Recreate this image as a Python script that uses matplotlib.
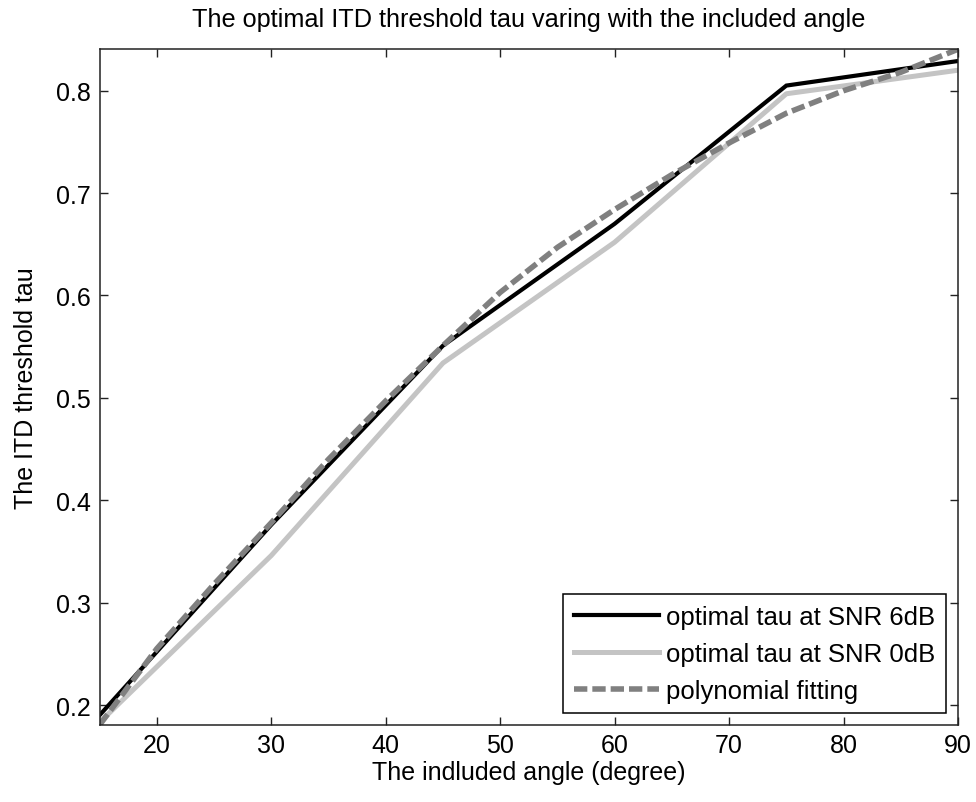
import matplotlib
matplotlib.use("Agg")
import matplotlib.pyplot as plt

plt.rcParams['font.family'] = ['Liberation Sans', 'DejaVu Sans']

# Included angle (degree) at which the optimal tau was measured
angles = [15, 30, 45, 60, 75, 90]
tau_snr6 = [0.190, 0.376, 0.551, 0.670, 0.805, 0.829]
tau_snr0 = [0.183, 0.346, 0.534, 0.652, 0.797, 0.820]

# Polynomial fit sampled along the angle range
fit_angles = [15, 20, 25, 30, 35, 40, 45, 50, 55, 60, 65, 70, 75, 80, 85, 90]
fit_tau = [0.1805, 0.255, 0.318, 0.378, 0.440, 0.497, 0.551, 0.603, 0.647,
           0.684, 0.718, 0.749, 0.778, 0.800, 0.818, 0.8405]

x_ticks = [20, 30, 40, 50, 60, 70, 80, 90]
y_ticks = [0.2, 0.3, 0.4, 0.5, 0.6, 0.7, 0.8]

fig = plt.figure(figsize=(9.76, 8.03), dpi=100)
ax = fig.add_axes([0.102, 0.0959, 0.8796, 0.8418])

ax.plot(angles, tau_snr6, color='black', lw=3.0, solid_joinstyle='miter',
        label='optimal tau at SNR 6dB')
ax.plot(angles, tau_snr0, color='#c4c4c4', lw=3.6,
        label='optimal tau at SNR 0dB')
ax.plot(fit_angles, fit_tau, color='#808080', lw=4.0, dashes=(2.4, 0.9),
        label='polynomial fitting')

ax.set_xlim(15, 90)
ax.set_ylim(0.1805, 0.8407)
ax.set_xticks(x_ticks)
ax.set_yticks(y_ticks)
ax.set_xticklabels([str(v) for v in x_ticks])
ax.set_yticklabels([f"{v:.1f}" for v in y_ticks])

ax.tick_params(axis='both', direction='in', length=6, width=1,
               top=True, right=True, labelsize=18, color='#222222')
ax.tick_params(axis='x', pad=6)
ax.tick_params(axis='y', pad=6)
for s in ax.spines.values():
    s.set_linewidth(1.1)
    s.set_color('#222222')

ax.set_title('The optimal ITD threshold tau varing with the included angle',
             fontsize=18.2, pad=16.5)
ax.set_xlabel('The indluded angle (degree)', fontsize=18, labelpad=2)
ax.set_ylabel('The ITD threshold tau', fontsize=18)
ax.yaxis.set_label_coords(-0.072, 0.5)

leg = ax.legend(loc='lower right', fontsize=18.5, frameon=True, fancybox=False,
                framealpha=1, edgecolor='black', handlelength=3.3,
                handletextpad=0.3, labelspacing=0.5, borderpad=0.42,
                borderaxespad=0.45)
leg.get_frame().set_linewidth(1.1)

fig.savefig('out.png', dpi=100)
